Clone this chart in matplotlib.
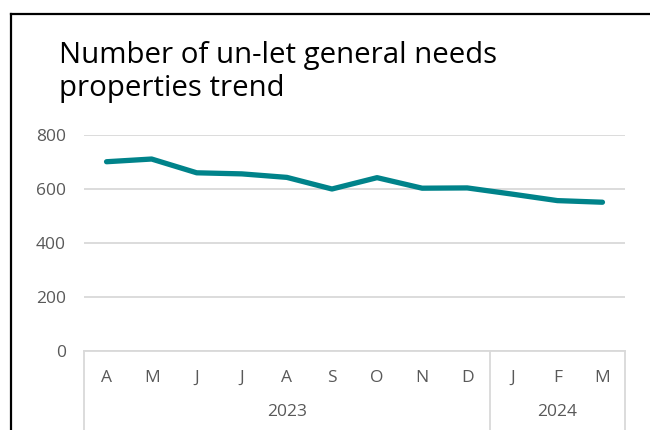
import matplotlib.pyplot as plt
from matplotlib.lines import Line2D

months = ['A', 'M', 'J', 'J', 'A', 'S', 'O', 'N', 'D', 'J', 'F', 'M']
unlet = [701, 711, 660, 656, 643, 600, 642, 603, 604, 581, 557, 551]
years = ['2023', '2024']
year_counts = [9, 3]
yticks = [0, 200, 400, 600, 800]

teal = '#00838A'
grid_col = '#D9D9D9'
tick_col = '#595959'

plt.rcParams['font.family'] = ['Open Sans', 'DejaVu Sans']

fig = plt.figure(figsize=(6.5, 4.3), dpi=100)
W, H = 650, 430

# outer frame (left and top edges visible)
fig.add_artist(Line2D([11 / W, 11 / W], [0, 1 - 14 / H], color='black', lw=1.6,
                      transform=fig.transFigure))
fig.add_artist(Line2D([11 / W, 1], [1 - 14 / H, 1 - 14 / H], color='black', lw=1.6,
                      transform=fig.transFigure))

fig.text(59 / W, 1 - 72 / H, 'Number of un-let general needs\nproperties trend',
         fontsize=21.2, color='black', va='center', ha='left', linespacing=1.15)

ax = fig.add_axes([84 / W, 1 - 351 / H, (625 - 84) / W, (351 - 135) / H])
x = list(range(len(months)))
ax.plot(x, unlet, color=teal, lw=3.8, solid_capstyle='round', solid_joinstyle='round',
        zorder=3)

ax.set_xlim(-0.5, len(months) - 0.5)
ax.set_ylim(0, 800)
ax.set_yticks(yticks)
ax.set_yticklabels([str(v) for v in yticks])
ax.tick_params(axis='y', length=0, pad=13, labelsize=12.5, labelcolor=tick_col)
ax.set_xticks([])
for s in ['top', 'right', 'left']:
    ax.spines[s].set_visible(False)
ax.spines['bottom'].set_color(grid_col)
ax.spines['bottom'].set_linewidth(1.3)
ax.grid(axis='y', color=grid_col, lw=1.3)
ax.set_axisbelow(True)

# month labels
for i, m in enumerate(months):
    ax.text(i, -27 / 216 * 800, m, ha='center', va='center', fontsize=12.5,
            color=tick_col, clip_on=False)

# year groups and separators
start = 0
bounds = [-0.5]
for yr, n in zip(years, year_counts):
    mid = start + (n - 1) / 2
    ax.text(mid, -61 / 216 * 800, yr, ha='center', va='center', fontsize=12.5,
            color=tick_col, clip_on=False)
    start += n
    bounds.append(start - 0.5)
for b in bounds:
    ax.add_artist(Line2D([b, b], [0, -80 / 216 * 800], color=grid_col, lw=1.3,
                         clip_on=False))

fig.savefig('out.png', dpi=100)
